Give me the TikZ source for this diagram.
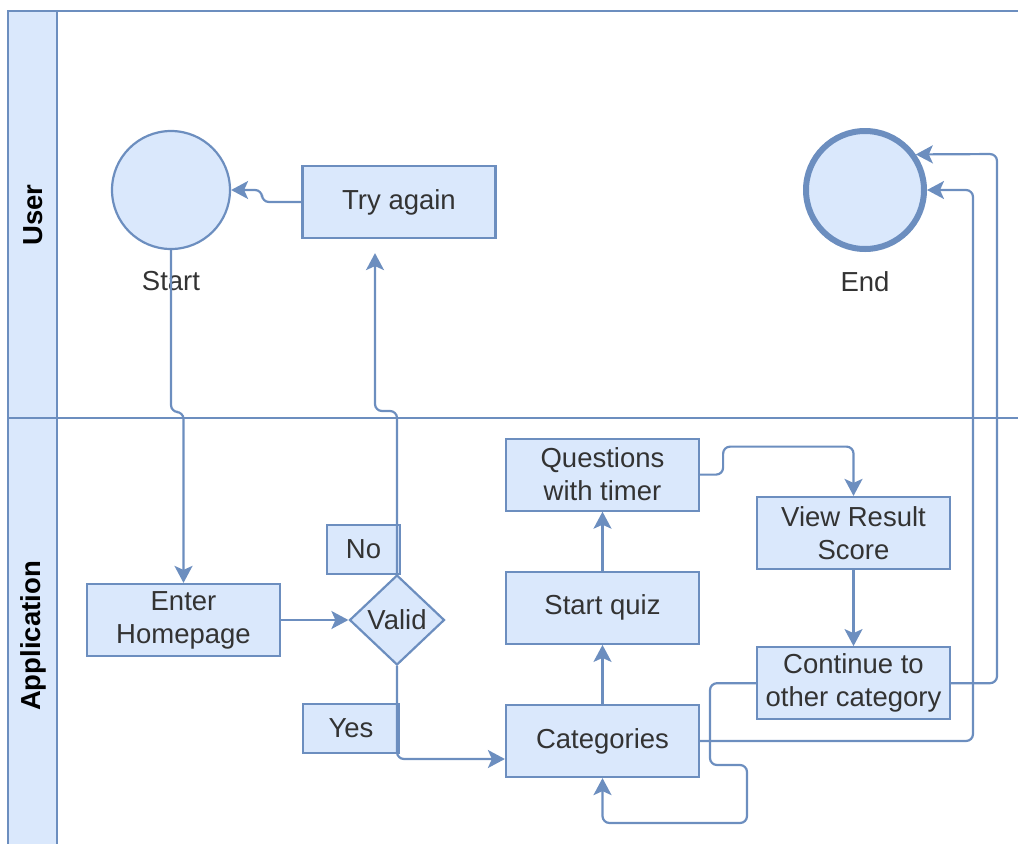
\documentclass[tikz,border=0pt]{standalone}
\usepackage{fontspec}
\setmainfont{Liberation Sans}
\usetikzlibrary{arrows.meta,positioning,shapes.geometric}
\definecolor{laneblue}{HTML}{DAE8FC}
\definecolor{lineblue}{HTML}{6C8EBF}
\definecolor{txtgray}{HTML}{333333}
\tikzset{
    task/.style={
        draw=lineblue,
        fill=laneblue,
        line width=2.2pt,
        align=center,
        inner sep=2pt,
        minimum width=193pt,
        minimum height=72pt,
        text=txtgray,
        font=\fontsize{27.5}{33}\selectfont
    },
    tag/.style={
        task,
        minimum height=49pt
    },
    decision/.style={
        diamond,
        draw=lineblue,
        fill=laneblue,
        line width=2.2pt,
        inner sep=0pt,
        minimum width=95pt,
        minimum height=90pt,
        text=txtgray,
        font=\fontsize{27.5}{33}\selectfont
    },
    event/.style={
        circle,
        draw=lineblue,
        fill=laneblue,
        line width=2.2pt,
        inner sep=0pt,
        minimum size=118pt
    },
    caption/.style={
        inner sep=0pt,
        text=txtgray,
        font=\fontsize{27.5}{33}\selectfont
    },
    lanetitle/.style={
        rotate=90,
        text=black,
        font=\fontsize{27.5}{33}\selectfont\bfseries
    },
    pool/.style={
        draw=lineblue,
        line width=2.2pt
    },
    arrow/.style={
        -{Stealth[length=17pt,width=18pt,inset=4pt]},
        draw=lineblue,
        line width=2.2pt,
        rounded corners=7pt
    }
}

\begin{document}
\begin{tikzpicture}[x=1pt,y=-1pt]
\useasboundingbox (0,0) rectangle (1018,844);

% pool and lanes
\fill[laneblue] (8,11) rectangle (57,844);
\draw[pool] (1018,11) -- (8,11) -- (8,844);
\draw[pool] (57,11) -- (57,844);
\draw[pool] (8,418) -- (1018,418);
\node[lanetitle] (userlane) at (33,215) {User};
\node[lanetitle] (applane) at (33,636) {Application};

% user lane
\node[event] (start) at (171,190) {};
\node[caption, below=21pt of start] (startlbl) {Start};
\node[task] (retry) at (399,202) {Try again};
\node[event, line width=6pt, minimum size=118pt] (end) at (865,190) {};
\node[caption, below=19pt of end] (endlbl) {End};

% application lane
\node[task] (home) at (183.5,620) {Enter\\Homepage};
\node[decision] (valid) at (397,620) {Valid};
\node[tag, minimum width=73pt] (no) at (363.5,549.5) {No};
\node[tag, minimum width=96pt] (yes) at (351,728.5) {Yes};
\node[task] (cat) at (602.5,741) {Categories};
\node[task, above=59pt of cat] (quiz) {Start quiz};
\node[task, above=59pt of quiz] (questions) {Questions\\with timer};
\node[task] (result) at (853.5,533) {View Result\\Score};
\node[task, below=76pt of result] (cont) {Continue to\\other category};

\draw[arrow] (retry.west) -- (262,202) -- (262,190) -- (start.east);
\draw[arrow] (start.south) -- (171,412) -| (home.north);
\draw[arrow] (home.east) -- (valid.west);
\draw[arrow] (valid.north) -- (397,411) -| ([xshift=-24pt,yshift=-14pt]retry.south);
\draw[arrow] (valid.south) |- ([yshift=-18pt]cat.west);
\draw[arrow] (cat.north) -- (quiz.south);
\draw[arrow] (quiz.north) -- (questions.south);
\draw[arrow] (questions.east) -- ++(23,0) -- ++(0,-28) -| (result.north);
\draw[arrow] (result.south) -- (cont.north);
\draw[arrow] (cont.east) -| (997,154) -- (end.35);
\draw[arrow] (cat.east) -| (973,190) -- (end.east);
\draw[arrow] (cont.west) -| (710,765) -- (747,765) -- (747,823) -| (cat.south);

\end{tikzpicture}
\end{document}
